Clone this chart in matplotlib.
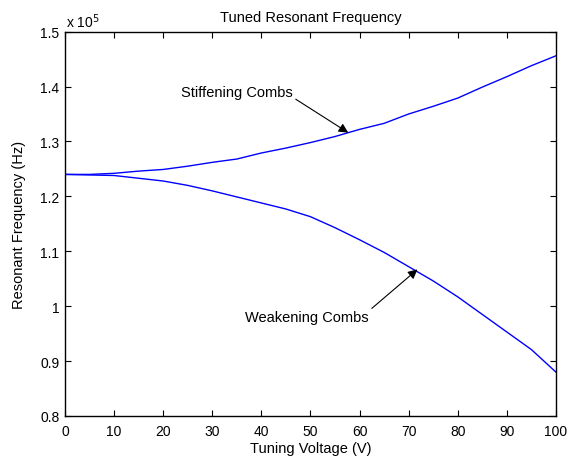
import matplotlib
matplotlib.use("Agg")
import matplotlib.pyplot as plt

plt.rcParams['font.family'] = ['Liberation Sans', 'DejaVu Sans']

# tuning voltage (V)
voltage = [0, 5, 10, 15, 20, 25, 30, 35, 40, 45, 50,
           55, 60, 65, 70, 75, 80, 85, 90, 95, 100]

# resonant frequency in units of 1e5 Hz
stiffening = [1.240, 1.240, 1.242, 1.246, 1.249, 1.255, 1.262, 1.268, 1.279, 1.288, 1.298,
              1.309, 1.322, 1.333, 1.350, 1.364, 1.379, 1.399, 1.418, 1.438, 1.456]
weakening = [1.240, 1.239, 1.238, 1.233, 1.228, 1.220, 1.210, 1.199, 1.188, 1.177, 1.163,
             1.143, 1.121, 1.098, 1.072, 1.046, 1.017, 0.985, 0.953, 0.921, 0.880]

x_ticks = [0, 10, 20, 30, 40, 50, 60, 70, 80, 90, 100]
y_ticks = [0.8, 0.9, 1.0, 1.1, 1.2, 1.3, 1.4, 1.5]
y_ticklabels = ['0.8', '0.9', '1', '1.1', '1.2', '1.3', '1.4', '1.5']

fig = plt.figure(figsize=(5.69, 4.60), dpi=100)
ax = fig.add_axes([0.1142, 0.0935, 0.977 - 0.1142, 0.929 - 0.0935])

ax.plot(voltage, stiffening, color='#0000ff', lw=1.0)
ax.plot(voltage, weakening, color='#0000ff', lw=1.0)

ax.set_xlim(0, 100)
ax.set_ylim(0.8, 1.5)
ax.set_xticks(x_ticks)
ax.set_yticks(y_ticks)
ax.set_yticklabels(y_ticklabels)
ax.tick_params(direction='in', length=4, width=0.8, top=True, right=True,
               labelsize=10, pad=4)
ax.tick_params(axis='x', pad=6)
for s in ax.spines.values():
    s.set_linewidth(1.0)

ax.set_xlabel('Tuning Voltage (V)', fontsize=10.5, labelpad=2)
ax.set_ylabel('Resonant Frequency (Hz)', fontsize=10.5, labelpad=10)
ax.set_title('Tuned Resonant Frequency', fontsize=10.5, pad=8)
ax.text(0.3, 1.503, r'x 10$^{5}$', fontsize=10, ha='left', va='bottom')

arrow = dict(arrowstyle='-|>', color='black', lw=0.8, mutation_scale=14,
             shrinkA=0, shrinkB=0)
ax.annotate('', xy=(57.7, 1.316), xytext=(47.0, 1.377), arrowprops=arrow)
ax.text(46.4, 1.390, 'Stiffening Combs', fontsize=10.5, ha='right', va='center')
ax.annotate('', xy=(71.8, 1.067), xytext=(62.5, 0.996), arrowprops=arrow)
ax.text(61.9, 0.981, 'Weakening Combs', fontsize=10.5, ha='right', va='center')

fig.savefig('out.png', dpi=100)
